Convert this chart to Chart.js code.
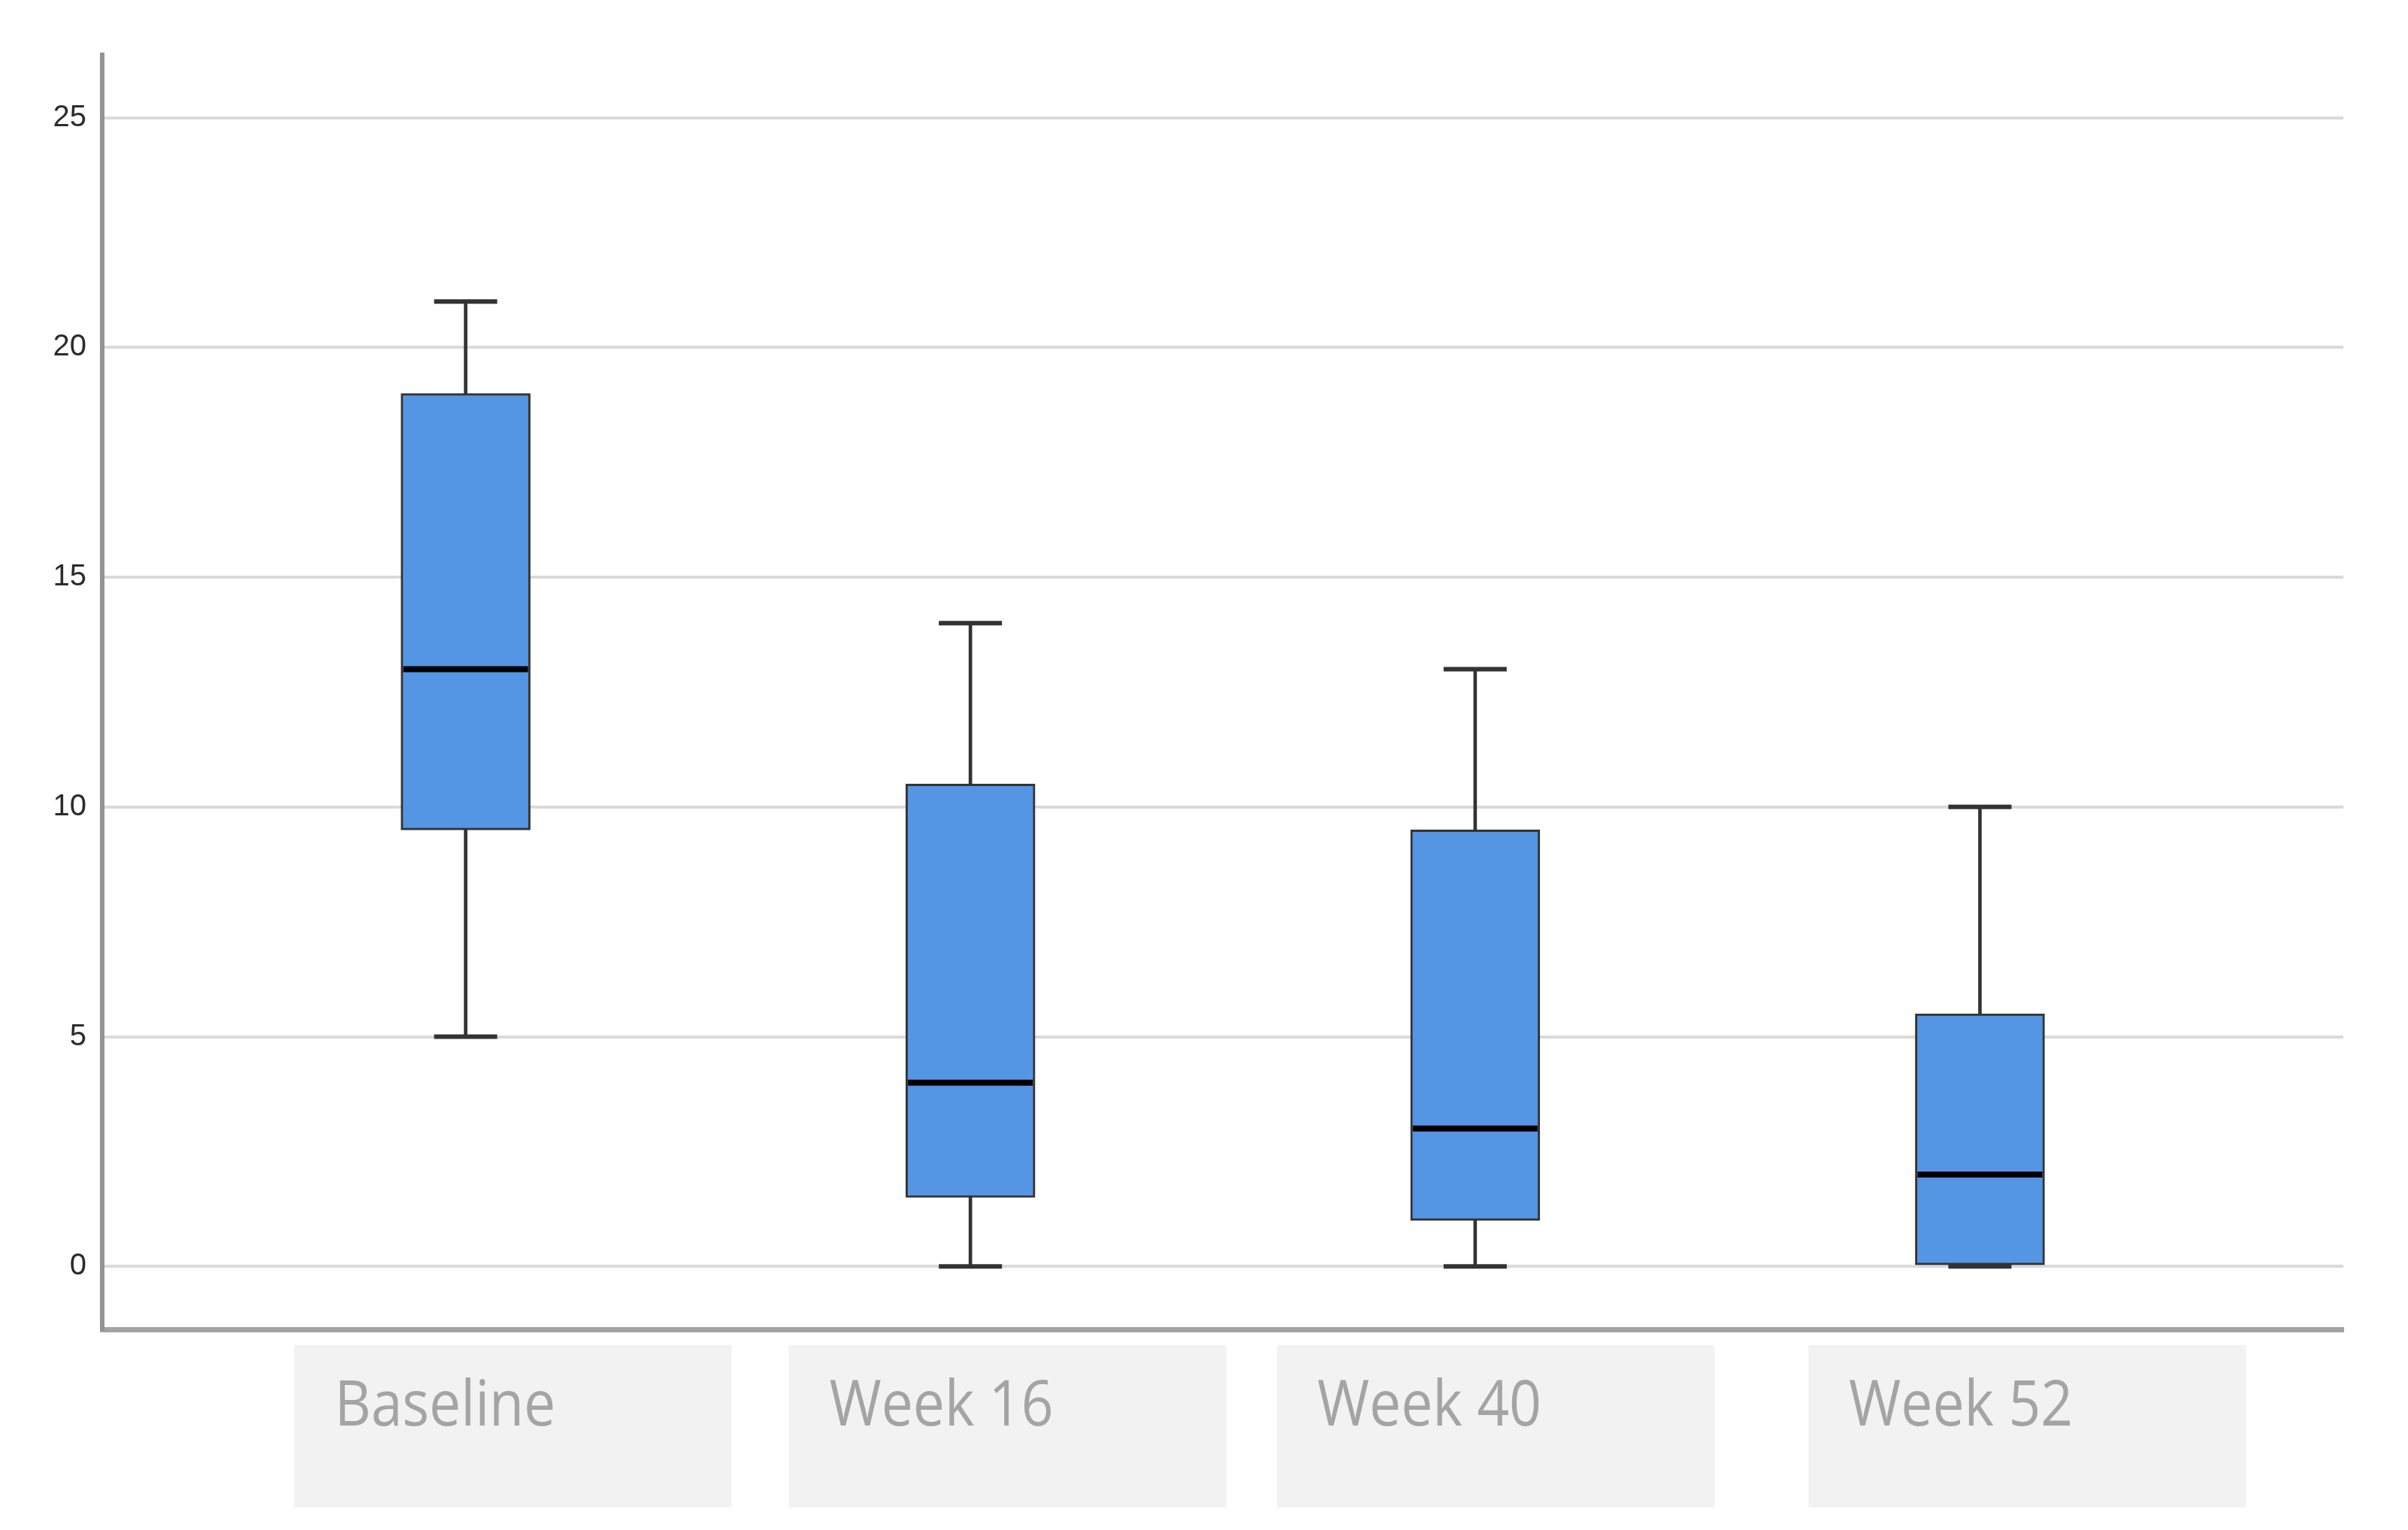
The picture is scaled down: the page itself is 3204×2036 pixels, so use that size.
<!DOCTYPE html>
<html>
<head>
<meta charset="utf-8">
<title>Box plot</title>
<script src="https://cdn.jsdelivr.net/npm/chart.js@4.4.1/dist/chart.umd.min.js"></script>
<style>
    html, body { margin: 0; padding: 0; background: #ffffff; overflow: hidden; }
    #wrap { width: 3204px; height: 2036px; }
</style>
</head>
<body>
<div id="wrap"><canvas id="boxChart" width="3204" height="2036"></canvas></div>
<script>
// Datos
const categories = ['Baseline', 'Week 16', 'Week 40', 'Week 52'];
const whiskerLow = [5, 0, 0, 0];
const q1 = [9.5, 1.5, 1, 0];
const median = [13, 4, 3, 2];
const q3 = [19, 10.5, 9.5, 5.5];
const whiskerHigh = [21, 14, 13, 10];
const yTicks = [0, 5, 10, 15, 20, 25];

const boxBlue = '#5596e4';
const darkLine = '#333333';

// Etiquetas del eje X en cajas grises (ligeramente desplazadas, como en el original)
const labelBoxes = {
    id: 'labelBoxes',
    afterDraw: (chart) => {
        const { ctx, chartArea, scales } = chart;
        const x = scales.x;
        const nudge = [0.02, 0, -0.033, 0.02];
        const top = chartArea.bottom + 21;
        const height = 216;
        ctx.save();
        categories.forEach((label, i) => {
            const left = x.getPixelForValue(i - 0.36 + nudge[i]);
            const right = x.getPixelForValue(i + 0.507 + nudge[i]);
            ctx.fillStyle = '#f2f2f2';
            ctx.fillRect(left, top, right - left, height);

            ctx.save();
            ctx.translate(left + 54, top + 107);
            ctx.scale(1, 1.12);
            ctx.font = '75px "Open Sans"';
            ctx.fillStyle = '#a4a4a4';
            ctx.textAlign = 'left';
            ctx.textBaseline = 'alphabetic';
            ctx.fillText(label, 0, 0);
            ctx.restore();
        });
        ctx.restore();
    }
};

const ctx = document.getElementById('boxChart').getContext('2d');
new Chart(ctx, {
    type: 'bar',
    data: {
        datasets: [
            {
                // mediana
                type: 'scatter',
                data: categories.map((c, i) => ({ x: i, y: median[i] })),
                pointStyle: 'line',
                pointRadius: 83,
                pointBorderWidth: 8,
                pointBorderColor: '#000000',
                order: 0
            },
            {
                // topes de los bigotes
                type: 'scatter',
                data: categories.flatMap((c, i) => [
                    { x: i, y: whiskerLow[i] },
                    { x: i, y: whiskerHigh[i] }
                ]),
                pointStyle: 'line',
                pointRadius: 42,
                pointBorderWidth: 6,
                pointBorderColor: darkLine,
                order: 1
            },
            {
                // caja Q1-Q3
                data: categories.map((c, i) => ({ x: i, y: [q1[i], q3[i]] })),
                backgroundColor: boxBlue,
                borderColor: darkLine,
                borderWidth: 3,
                borderSkipped: false,
                barThickness: 172,
                grouped: false,
                order: 2
            },
            {
                // bigotes
                data: categories.map((c, i) => ({ x: i, y: [whiskerLow[i], whiskerHigh[i]] })),
                backgroundColor: darkLine,
                borderWidth: 0,
                barThickness: 4,
                grouped: false,
                order: 3
            }
        ]
    },
    options: {
        responsive: false,
        devicePixelRatio: 1,
        animation: false,
        events: [],
        layout: {
            autoPadding: false,
            padding: { top: 73, right: 86, bottom: 267, left: 0 }
        },
        plugins: {
            legend: { display: false },
            tooltip: { enabled: false }
        },
        scales: {
            x: {
                type: 'linear',
                offset: false,
                min: -0.72,
                max: 3.72,
                grid: { display: false },
                ticks: { display: false },
                border: { display: true, color: '#a3a3a3', width: 7 },
                afterFit: (scale) => {
                    scale.height = 0;
                    scale.paddingLeft = 0;
                    scale.paddingRight = 0;
                }
            },
            y: {
                type: 'linear',
                min: -1.37,
                max: 26.37,
                afterBuildTicks: (scale) => { scale.ticks = yTicks.map(v => ({ value: v })); },
                afterFit: (scale) => {
                    scale.width = 136;
                    scale.paddingTop = 0;
                    scale.paddingBottom = 0;
                },
                grid: { color: '#dadada', lineWidth: 4, drawTicks: false },
                border: { display: true, color: '#939393', width: 6 },
                ticks: {
                    padding: 21,
                    color: '#2b2b2b',
                    font: { family: 'Liberation Sans', size: 40 }
                }
            }
        }
    },
    plugins: [labelBoxes]
});
</script>
</body>
</html>
